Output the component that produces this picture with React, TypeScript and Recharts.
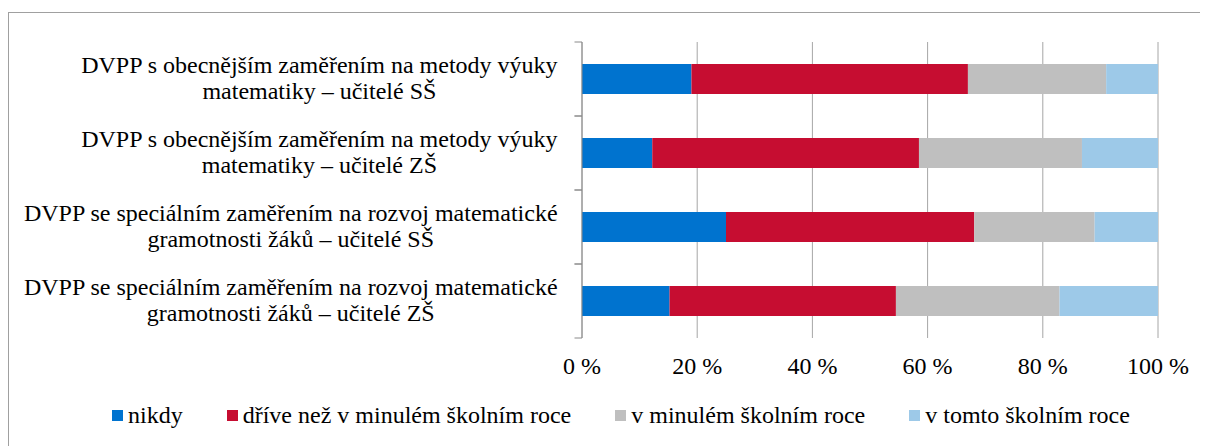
import React from 'react'
import { Bar, BarChart, CartesianGrid, XAxis, YAxis } from 'recharts'

const categories = [
  'DVPP s obecnějším zaměřením na metody výuky\nmatematiky – učitelé SŠ',
  'DVPP s obecnějším zaměřením na metody výuky\nmatematiky – učitelé ZŠ',
  'DVPP se speciálním zaměřením na rozvoj matematické\ngramotnosti žáků – učitelé SŠ',
  'DVPP se speciálním zaměřením na rozvoj matematické\ngramotnosti žáků – učitelé ZŠ',
]
const nikdy = [19.0, 12.2, 25.0, 15.2]
const drive = [48.0, 46.3, 43.1, 39.3]
const minuly = [24.0, 28.3, 20.9, 28.4]
const tento = [9.0, 13.2, 11.0, 17.1]
const seriesNames = ['nikdy', 'dříve než v minulém školním roce', 'v minulém školním roce', 'v tomto školním roce']
const xTicks = [0, 20, 40, 60, 80, 100]

const colors = ['#0073CF', '#C60D31', '#BFBFBF', '#9DC9E8']
const keys = ['s0', 's1', 's2', 's3']
const FONT = '"Liberation Serif", serif'
const BAND = 74

const data = categories.map((name, i) => ({
  name,
  s0: nikdy[i],
  s1: drive[i],
  s2: minuly[i],
  s3: tento[i],
}))

let ctx: CanvasRenderingContext2D | null = null
const measure = (t: string) => {
  if (!ctx) ctx = document.createElement('canvas').getContext('2d')
  if (!ctx) return t.length * 11
  ctx.font = '24px "Liberation Serif", serif'
  return ctx.measureText(t).width
}

const YTick = (props: any) => {
  const { x, y, payload } = props
  const lines = String(payload.value).split('\n')
  const block = Math.max(...lines.map(measure))
  const cx = x - 24 - block / 2
  return (
    <g>
      <line x1={x - 7.5} x2={x} y1={y - BAND / 2} y2={y - BAND / 2} stroke="#8a8a8a" />
      <line x1={x - 7.5} x2={x} y1={y + BAND / 2} y2={y + BAND / 2} stroke="#8a8a8a" />
      {lines.map((l, i) => (
        <text key={i} x={cx} y={y - 6 + i * 26} textAnchor="middle" fill="#000" fontFamily={FONT} fontSize={24}>
          {l}
        </text>
      ))}
    </g>
  )
}

const XTick = (props: any) => {
  const { x, y, payload } = props
  return (
    <text x={x} y={y + 36} textAnchor="middle" fill="#000" fontFamily={FONT} fontSize={24}>
      {payload.value} %
    </text>
  )
}

const App = () => {
  return (
    <div style={{ position: 'relative', width: 1200, height: 438, overflow: 'hidden', fontFamily: FONT }}>
      <div
        style={{
          position: 'absolute',
          top: 4,
          left: 0,
          width: 1300,
          height: 600,
          border: '1px solid #a0a0a0',
          boxSizing: 'border-box',
        }}
      />
      <div style={{ position: 'absolute', top: 0, left: 0 }}>
        <BarChart
          width={1200}
          height={438}
          data={data}
          layout="vertical"
          margin={{ top: 34, right: 50, left: 0, bottom: 68 }}
        >
          <CartesianGrid horizontal={false} stroke="#a6a6a6" />
          <XAxis
            type="number"
            domain={[0, 100]}
            ticks={xTicks}
            axisLine={false}
            tickLine={false}
            tickSize={0}
            tickMargin={0}
            height={40}
            tick={<XTick />}
            interval={0}
          />
          <YAxis
            type="category"
            dataKey="name"
            width={574}
            axisLine={{ stroke: '#8a8a8a' }}
            tickLine={false}
            tickSize={0}
            tickMargin={0}
            tick={<YTick />}
            interval={0}
          />
          {keys.map((k, i) => (
            <Bar key={k} dataKey={k} name={seriesNames[i]} stackId="a" fill={colors[i]} barSize={30} isAnimationActive={false} />
          ))}
        </BarChart>
      </div>
      <div
        style={{
          position: 'absolute',
          top: 394,
          left: 104,
          display: 'flex',
          alignItems: 'center',
          fontSize: 24,
          lineHeight: '27px',
          whiteSpace: 'nowrap',
        }}
      >
        {seriesNames.map((n, i) => (
          <div key={n} style={{ display: 'flex', alignItems: 'center', marginRight: 44 }}>
            <span style={{ width: 11, height: 11, background: colors[i], marginRight: 5, display: 'inline-block' }} />
            <span>{n}</span>
          </div>
        ))}
      </div>
    </div>
  )
}

export default App
